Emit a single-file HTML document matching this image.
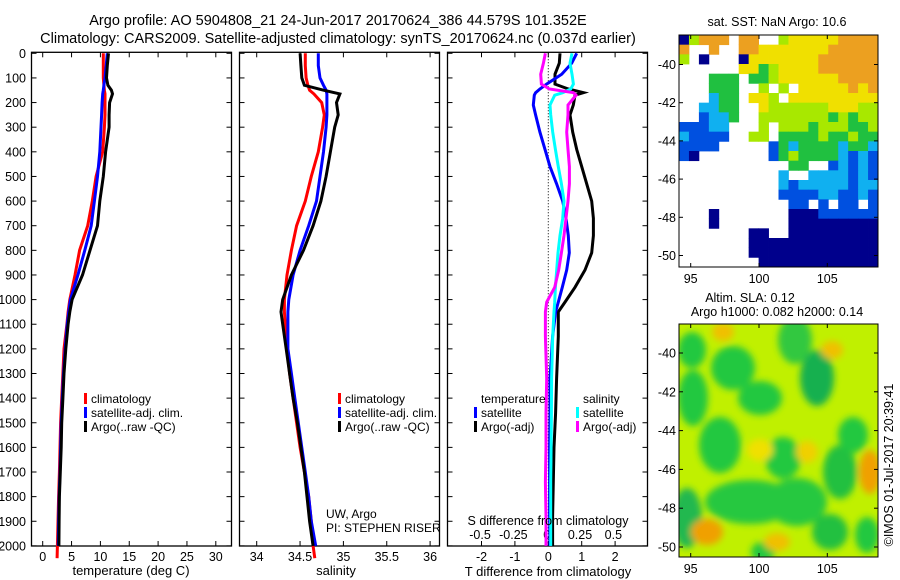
<!DOCTYPE html>
<html><head><meta charset="utf-8">
<style>
html,body{margin:0;padding:0;background:#fff;}
svg{display:block;font-family:"Liberation Sans",sans-serif;}
</style></head>
<body>
<svg id="fig" width="900" height="580" viewBox="0 0 900 580" xmlns="http://www.w3.org/2000/svg">
<text x="338" y="25" font-size="14.5" text-anchor="middle">Argo profile: AO 5904808_21 24-Jun-2017 20170624_386 44.579S 101.352E</text>
<text x="338" y="43" font-size="14.5" text-anchor="middle">Climatology: CARS2009. Satellite-adjusted climatology: synTS_20170624.nc (0.037d earlier)</text>
<g id="p1"></g>
<g id="p2"></g>
<g id="p3"></g>
<g id="m1"></g>
<g id="m2"></g>
</svg>
<script>
// ---------- data ----------
const depths = [0,50,100,130,150,165,200,250,300,400,500,600,700,800,900,1000,1050,1100,1200,1300,1400,1500,1600,1700,1800,1900,2000,2050];
const tempClim = [10.5,10.5,10.5,10.6,10.7,10.8,10.8,10.8,10.7,10.4,9.25,8.6,7.8,6.4,5.6,4.7,4.4,4.2,3.7,3.5,3.3,3.1,3.0,2.9,2.75,2.65,2.55,2.5];
const tempSat = [11.2,11.0,10.8,10.6,10.5,10.4,10.3,10.2,10.1,9.9,9.5,8.96,8.4,7.3,6.1,4.8,4.5,4.25,3.9,3.6,3.4,3.2,3.1,3.0,2.85,2.75,2.7];
const tempArgo = [11.4,11.2,11.05,11.3,11.9,12.1,11.6,11.5,11.5,10.9,10.5,9.9,9.5,8.2,6.9,5.1,4.7,4.4,4.0,3.7,3.5,3.3,3.2,3.05,2.9,2.85,2.8];
const salClim = [34.56,34.56,34.57,34.59,34.61,34.66,34.75,34.78,34.76,34.71,34.63,34.56,34.46,34.40,34.35,34.32,34.32,34.33,34.35,34.38,34.42,34.46,34.50,34.55,34.60,34.63,34.65,34.67];
const salSat = [34.71,34.71,34.73,34.77,34.80,34.81,34.81,34.81,34.80,34.77,34.73,34.69,34.60,34.50,34.42,34.37,34.36,34.36,34.36,34.40,34.44,34.48,34.52,34.56,34.60,34.63,34.68];
const salArgo = [34.50,34.51,34.52,34.55,34.77,34.96,34.92,34.94,34.90,34.85,34.80,34.74,34.65,34.54,34.40,34.30,34.28,34.30,34.34,34.38,34.42,34.47,34.51,34.55,34.58,34.61,34.65];
const diffDepths = [0,40,85,125,145,160,170,210,250,320,390,460,530,600,670,740,810,880,950,1010,1050,1150,1320,1460,1600,1740,1880,2000];
const tDiffSat = [0.85,0.70,0.40,-0.05,-0.25,-0.38,-0.42,-0.45,-0.38,-0.25,-0.1,0.05,0.25,0.43,0.53,0.6,0.63,0.55,0.42,0.3,0.22,0.13,0.05,0.05,0.04,0.04,0.04,0.05];
const tDiffArgo = [0.35,0.33,0.2,0.2,0.6,1.05,0.8,0.75,0.65,0.73,0.85,1.0,1.15,1.3,1.35,1.35,1.3,1.1,0.8,0.5,0.3,0.3,0.25,0.22,0.17,0.15,0.13,0.13];
const sDiffSat = [0.19,0.175,0.19,0.2,0.18,0.12,0.06,0.025,0.03,0.045,0.065,0.087,0.11,0.13,0.12,0.1,0.085,0.075,0.065,0.06,0.055,0.045,0.037,0.035,0.033,0.03,0.03,0.03];
const sDiffArgo = [-0.01,-0.025,-0.045,-0.04,0.02,0.2,0.22,0.16,0.16,0.15,0.16,0.17,0.17,0.16,0.145,0.13,0.11,0.09,0.06,0.0,-0.01,-0.01,0.0,-0.005,-0.005,-0.01,-0.005,-0.005];
const depthTicks = [0,100,200,300,400,500,600,700,800,900,1000,1100,1200,1300,1400,1500,1600,1700,1800,1900,2000];
const tempTicks = [0,5,10,15,20,25,30];
const salTicks = [34,34.5,35,35.5,36];
const salTickLabels = ["34","34.5","35","35.5","36"];
const tDiffTicks = [-2,-1,0,1,2];
const sDiffTicks = [-0.5,-0.25,0,0.25,0.5];
const sDiffTickLabels = ["-0.5","-0.25","0","0.25","0.5"];
const latTicks = [-40,-42,-44,-46,-48,-50];
const lonTicks = [95,100,105];

const NS="http://www.w3.org/2000/svg";
function mk(parent,tag,attrs,text){const e=document.createElementNS(NS,tag);for(const k in attrs)e.setAttribute(k,attrs[k]);if(text!==undefined)e.textContent=text;parent.appendChild(e);return e;}

// ---------- axes ----------
const yTop=53.3, yBot=546;
const yD = d => yTop + d*0.2463;
const xT = t => 42.7 + t*5.77;
const xS = s => 256.7 + (s-34)*86.7;
const xTd = t => 548.3 + t*33.4;
const xSd = s => 546.7 + s*133.3;

function frame(g,x0,x1,name){
  const r=mk(g,'rect',{x:x0,y:yTop-1,width:x1-x0,height:yBot-yTop+1,fill:'none',stroke:'#000','stroke-width':1.3});
  
  
  depthTicks.forEach(d=>{
    const y=yD(d);
    const t1=mk(g,'line',{x1:x0,x2:x0+5,y1:y,y2:y,stroke:'#000'});
    
    
    const t2=mk(g,'line',{x1:x1-5,x2:x1,y1:y,y2:y,stroke:'#000'});
    
    
  });
}
function line(g,xs,ds,vals,color,name,w){
  const pts=vals.map((v,i)=>xs(v).toFixed(1)+','+yD(ds[i]).toFixed(1)).join(' ');
  const p=mk(g,'polyline',{points:pts,fill:'none',stroke:color,'stroke-width':w||3,'stroke-linejoin':'miter'});
  
  
}
function xticks(g,vals,labels,xf,name,top){
  vals.forEach((v,i)=>{
    const x=xf(v);
    const t=mk(g,'line',{x1:x,x2:x,y1:yBot-5,y2:yBot,stroke:'#000'});
    
    
    if(top){const t2=mk(g,'line',{x1:x,x2:x,y1:yTop-1,y2:yTop+4,stroke:'#000'});
    
    }
    const l=mk(g,'text',{x:x,y:561,'font-size':12.5,'text-anchor':'middle'},labels[i]);
    
    
  });
}
function legend(g,x,y,color,label,name){
  const m=mk(g,'rect',{x:x,y:y-10,width:3,height:11,fill:color});
  
  
  const t=mk(g,'text',{x:x+7,y:y,'font-size':12},label);
  
  
}

// panel 1
const p1=document.getElementById('p1');
frame(p1,31.5,231.5,'temperature-panel');
depthTicks.forEach(d=>{
  const l=mk(p1,'text',{x:26,y:yD(d)+4.5,'font-size':12.5,'text-anchor':'end'},String(d));
  
  
});
xticks(p1,tempTicks,tempTicks.map(String),xT,'temperature-axis',true);
line(p1,xT,depths,tempClim,'#ff0000','temp-climatology-line');
line(p1,xT,depths,tempSat,'#0000ff','temp-satellite-line');
line(p1,xT,depths,tempArgo,'#000000','temp-argo-line');
let t=mk(p1,'text',{x:131,y:575,'font-size':13,'text-anchor':'middle'},'temperature (deg C)');

legend(p1,84,403,'#ff0000','climatology','legend-climatology');
legend(p1,84,417,'#0000ff','satellite-adj. clim.','legend-satellite-adj');
legend(p1,84,431,'#000000','Argo(..raw -QC)','legend-argo');

// panel 2
const p2=document.getElementById('p2');
frame(p2,239.5,439.5,'salinity-panel');
xticks(p2,salTicks,salTickLabels,xS,'salinity-axis',true);
line(p2,xS,depths,salClim,'#ff0000','sal-climatology-line');
line(p2,xS,depths,salSat,'#0000ff','sal-satellite-line');
line(p2,xS,depths,salArgo,'#000000','sal-argo-line');
t=mk(p2,'text',{x:336,y:575,'font-size':13,'text-anchor':'middle'},'salinity');

legend(p2,338,403,'#ff0000','climatology','legend-climatology-2');
legend(p2,338,417,'#0000ff','satellite-adj. clim.','legend-satellite-adj-2');
legend(p2,338,431,'#000000','Argo(..raw -QC)','legend-argo-2');
t=mk(p2,'text',{x:326,y:518,'font-size':12},'UW, Argo');

t=mk(p2,'text',{x:326,y:532,'font-size':12},'PI: STEPHEN RISER');


// panel 3
const p3=document.getElementById('p3');
frame(p3,447.5,647.5,'difference-panel');
t=mk(p3,'line',{x1:xTd(0),x2:xTd(0),y1:yTop,y2:yBot,stroke:'#000','stroke-dasharray':'1,2'});

xticks(p3,tDiffTicks,tDiffTicks.map(String),xTd,'t-diff-axis',true);
sDiffTicks.forEach((v,i)=>{
  const l=mk(p3,'text',{x:xSd(v),y:539,'font-size':12.5,'text-anchor':'middle'},sDiffTickLabels[i]);
  
  
});
line(p3,xTd,diffDepths,tDiffArgo,'#000000','t-diff-argo-line');
line(p3,xTd,diffDepths,tDiffSat,'#0000ff','t-diff-satellite-line');
line(p3,xSd,diffDepths,sDiffSat,'#00ffff','s-diff-satellite-line');
line(p3,xSd,diffDepths,sDiffArgo,'#ff00ff','s-diff-argo-line');
t=mk(p3,'text',{x:548,y:525,'font-size':12.5,'text-anchor':'middle'},'S difference from climatology');

t=mk(p3,'text',{x:548,y:576,'font-size':13,'text-anchor':'middle'},'T difference from climatology');

t=mk(p3,'text',{x:481,y:403,'font-size':12},'temperature');

t=mk(p3,'text',{x:583,y:403,'font-size':12},'salinity');

legend(p3,474,417,'#0000ff','satellite','legend-t-satellite');
legend(p3,474,431,'#000000','Argo(-adj)','legend-t-argo');
legend(p3,576,417,'#00ffff','satellite','legend-s-satellite');
legend(p3,576,431,'#ff00ff','Argo(-adj)','legend-s-argo');

// ---------- maps ----------
function mapAxes(g,x0,y0,x1,y1,lat40,lat50,name){
  const yl = la => lat40 + (la+40)/(-10)*(lat50-lat40);
  const xl = lo => 690.7 + (lo-95)*13.66;
  latTicks.forEach(la=>{
    const y=yl(la);
    let a=mk(g,'line',{x1:x0,x2:x0+4,y1:y,y2:y,stroke:'#000'});
    
    a=mk(g,'line',{x1:x1-4,x2:x1,y1:y,y2:y,stroke:'#000'});
    
    const l=mk(g,'text',{x:x0-3,y:y+4.5,'font-size':12.5,'text-anchor':'end'},String(la));
    
  });
  lonTicks.forEach(lo=>{
    const x=xl(lo);
    let a=mk(g,'line',{x1:x,x2:x,y1:y0,y2:y0+4,stroke:'#000'});
    
    a=mk(g,'line',{x1:x,x2:x,y1:y1-4,y2:y1,stroke:'#000'});
    
    const l=mk(g,'text',{x:x,y:y1+16,'font-size':12.5,'text-anchor':'middle'},String(lo));
    
  });
  const r=mk(g,'rect',{x:x0,y:y0,width:x1-x0,height:y1-y0,fill:'none',stroke:'#000','stroke-width':1});
  
}
const sstGrid=[
"nlooo.oo..lyyyyyoooo",
"o..o..ooyyyyyyyooooo",
"l.n...nyyyyyyyoooooo",
"......yyglyyyyoooooo",
"...ggg.gglyyyyyyoooo",
"...ggg..l.l.yyyyyoyo",
"...cgg.yyl.yyyyyyyyy",
"..ccgg..yllllllyyyll",
"..bccg..lllllllglgll",
"bbbcc...l.lllglllggl",
"cbbbb..ll.gggglgglgg",
"bbbb.....bgcggggcggc",
"bn.......bglggggcbcb",
"...........gg..bcbcb",
"..........c..ccccbcb",
"..........cbcccccbcc",
"..........bbbbccbbcb",
"...........bb.b.bb.b",
"...n.......nnnbbbbbb",
"...n.......nnnnnnnnn",
".......nn..nnnnnnnnn",
".......nnnnnnnnnnnnn",
".......nnnnnnnnnnnnn",
"........nnnnnnnnnnnn"];
const sstColors={n:'#00008c',b:'#0050e0',c:'#10b0f0',g:'#20c040',l:'#a8e800',y:'#f0e000',o:'#eca020'};
const m1=document.getElementById('m1');
{
  const x0=679,y0=35,x1=878,y1=267,cw=(x1-x0)/20,ch=(y1-y0)/24;
  sstGrid.forEach((row,r)=>{[...row].forEach((c,ci)=>{
    if(c==='.')return;
    const cell=mk(m1,'rect',{x:(x0+ci*cw).toFixed(2),y:(y0+r*ch).toFixed(2),width:(cw+0.4).toFixed(2),height:(ch+0.4).toFixed(2),fill:sstColors[c]});
    
    
  });});
  t=mk(m1,'text',{x:777,y:26,'font-size':12.5,'text-anchor':'middle'},'sat. SST: NaN Argo: 10.6');
  
  mapAxes(m1,x0,y0,x1,y1,64.5,255.5,'sst-map');
}
const slaBlobs=[
[692,350,14,18,'#20c840'],[733,368,22,22,'#20c840'],[760,398,22,17,'#20c840'],[817,378,17,28,'#18b050'],
[795,340,17,24,'#30c840'],[693,398,15,28,'#20c840'],[720,445,21,28,'#20c840'],[783,458,18,21,'#20c840'],
[840,472,17,27,'#20c040'],[853,435,15,18,'#20c840'],[750,502,45,22,'#28c840'],[797,502,30,24,'#28c840'],
[687,518,15,30,'#20b850'],[830,532,18,18,'#20c040'],[867,535,12,18,'#20c840'],[763,552,12,10,'#20c840'],
[723,332,11,9,'#f0c000'],[832,350,11,9,'#f0c000'],[707,532,16,13,'#f0a000'],[870,472,11,22,'#f0a000'],
[777,542,13,9,'#f0c000'],[807,452,11,11,'#f0d000'],[760,450,13,11,'#f0e000']];
const m2=document.getElementById('m2');
{
  const x0=679,y0=324,x1=878,y1=557;
  const defs=mk(m2,'defs',{});
  const cp=mk(defs,'clipPath',{id:'clipSla'});mk(cp,'rect',{x:x0,y:y0,width:x1-x0,height:y1-y0});
  const f=mk(defs,'filter',{id:'blur',x:'-50%',y:'-50%',width:'200%',height:'200%'});mk(f,'feGaussianBlur',{stdDeviation:3.5});
  const cg=mk(m2,'g',{'clip-path':'url(#clipSla)'});
  const bg=mk(cg,'rect',{x:x0,y:y0,width:x1-x0,height:y1-y0,fill:'#c0f000'});
  
  const bgg=mk(cg,'g',{filter:'url(#blur)'});
  slaBlobs.forEach(b=>{
    const e=mk(bgg,'ellipse',{cx:b[0],cy:b[1],rx:b[2],ry:b[3],fill:b[4]});
    
    
  });
  t=mk(m2,'text',{x:750,y:302,'font-size':12.5,'text-anchor':'middle'},'Altim. SLA: 0.12');
  
  t=mk(m2,'text',{x:777,y:316,'font-size':12.5,'text-anchor':'middle'},'Argo h1000: 0.082 h2000: 0.14');
  
  mapAxes(m2,x0,y0,x1,y1,353,547,'sla-map');
  t=mk(m2,'text',{x:0,y:0,'font-size':12.5,'text-anchor':'middle',transform:'translate(893,465) rotate(-90)'},'©IMOS 01-Jul-2017 20:39:41');
  
}
</script>
</body></html>
